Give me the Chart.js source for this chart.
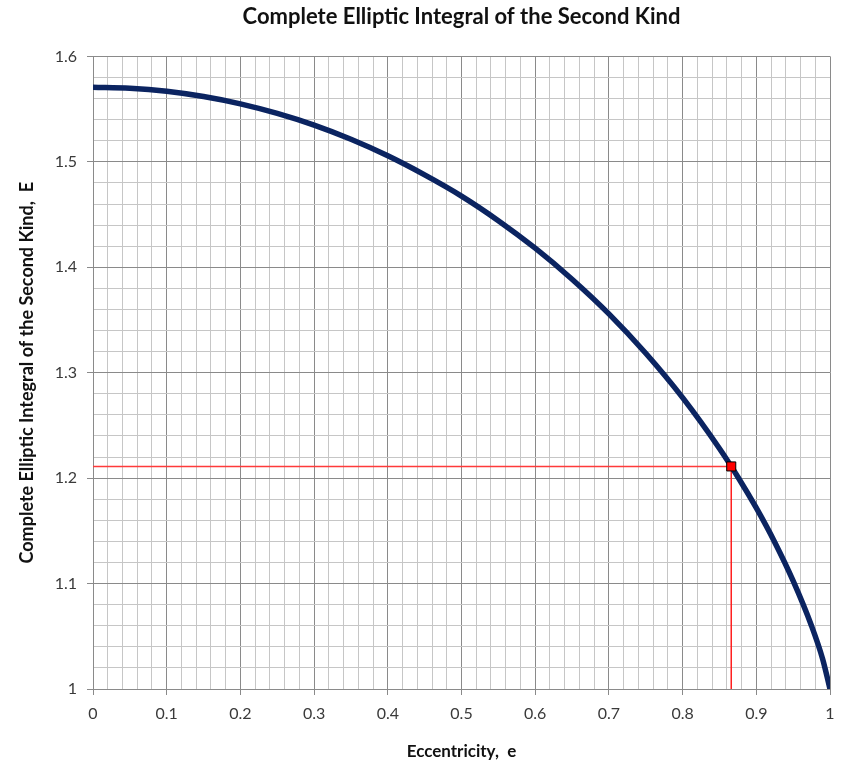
<!DOCTYPE html>
<html>
<head>
<meta charset="utf-8">
<script src="https://cdn.jsdelivr.net/npm/chart.js@4"></script>
<style>
  html, body { margin: 0; padding: 0; background: #fff; }
  #wrap { width: 844px; height: 764px; }
</style>
</head>
<body>
<div id="wrap"><canvas id="chart" width="844" height="764"></canvas></div>
<script>
// eccentricity e and the complete elliptic integral E(e)
const eccentricity = [0, 0.05, 0.1, 0.15, 0.2, 0.25, 0.3, 0.35, 0.4, 0.45, 0.5, 0.55, 0.6, 0.65, 0.7, 0.75, 0.8, 0.85, 0.875, 0.9, 0.925, 0.95, 0.975, 0.99, 1];
const integralE = [1.5708, 1.5698, 1.5669, 1.5619, 1.5550, 1.5459, 1.5348, 1.5214, 1.5057, 1.4876, 1.4675, 1.4442, 1.4181, 1.3887, 1.3558, 1.3184, 1.2763, 1.2281, 1.2011, 1.1717, 1.1392, 1.1025, 1.0598, 1.0285, 1.0];

// highlighted point
const markerE = [0.866];
const markerValue = [1.2111];

const xTicks = [];
for (let i = 0; i <= 50; i++) xTicks.push(i / 50);
const yTicks = [];
for (let i = 0; i <= 30; i++) yTicks.push(1 + i / 50);

const isMajor = v => Math.abs(Math.round(v * 10) - v * 10) < 1e-6;
const gridColor = ctx => (ctx.tick && isMajor(ctx.tick.value)) ? '#8a8a8a' : '#c6c6c6';
const tickColor = ctx => (ctx.tick && isMajor(ctx.tick.value)) ? '#8a8a8a' : 'rgba(0,0,0,0)';
const tickLabel = v => isMajor(v) ? String(Math.round(v * 10) / 10) : '';

const curve = eccentricity.map((e, i) => ({ x: e, y: integralE[i] }));
const marker = markerE.map((e, i) => ({ x: e, y: markerValue[i] }));
const hLine = [{ x: 0, y: markerValue[0] }, { x: markerE[0], y: markerValue[0] }];
const vLine = [{ x: markerE[0], y: markerValue[0] }, { x: markerE[0], y: 1 }];

const font = "Lato, 'Open Sans', sans-serif";

new Chart(document.getElementById('chart'), {
  type: 'scatter',
  data: {
    datasets: [
      { data: hLine, showLine: true, borderColor: '#ff3a3a', borderWidth: 1.5, pointRadius: 0, order: 2 },
      { data: vLine, showLine: true, borderColor: '#ff2020', borderWidth: 1.5, pointRadius: 0, order: 2 },
      { data: curve, showLine: true, borderColor: '#0b2461', borderWidth: 5.5, pointRadius: 0,
        cubicInterpolationMode: 'monotone', order: 1 },
      { data: marker, pointStyle: 'rect', pointRadius: 6.4, backgroundColor: '#ff0000',
        borderColor: '#000', borderWidth: 1, order: 0 }
    ]
  },
  options: {
    responsive: false,
    animation: false,
    layout: { padding: { left: 14, right: 14, top: 0, bottom: 0 } },
    plugins: {
      legend: { display: false },
      tooltip: { enabled: false },
      title: {
        display: true,
        fullSize: false,
        text: 'Complete Elliptic Integral of the Second Kind',
        color: '#111',
        font: { family: font, size: 22, weight: 'bold' },
        padding: { top: 4, bottom: 26 }
      }
    },
    scales: {
      x: {
        type: 'linear', min: 0, max: 1,
        afterBuildTicks: s => { s.ticks = xTicks.map(v => ({ value: v })); },
        afterFit: s => { s.height = 75; },
        grid: { color: gridColor, tickColor: tickColor, tickLength: 6, lineWidth: 1 },
        border: { color: '#8a8a8a' },
        ticks: { autoSkip: false, maxRotation: 0, callback: tickLabel, color: '#3a3a3a',
                 font: { family: font, size: 16 }, padding: 9 },
        title: { display: true, text: 'Eccentricity,  e', color: '#111',
                 font: { family: font, size: 17, weight: 'bold' }, padding: { top: 0, bottom: 2 } }
      },
      y: {
        type: 'linear', min: 1, max: 1.6,
        afterBuildTicks: s => { s.ticks = yTicks.map(v => ({ value: v })); },
        afterFit: s => { s.width = 79; },
        grid: { color: gridColor, tickColor: tickColor, tickLength: 6, lineWidth: 1 },
        border: { color: '#8a8a8a' },
        ticks: { autoSkip: false, callback: tickLabel, color: '#3a3a3a',
                 font: { family: font, size: 16 }, padding: 10 },
        title: { display: true, text: 'Complete Elliptic Integral of the Second Kind,  E', color: '#111',
                 font: { family: font, size: 18, weight: 'bold' }, padding: 2 }
      }
    }
  }
});
</script>
</body>
</html>
